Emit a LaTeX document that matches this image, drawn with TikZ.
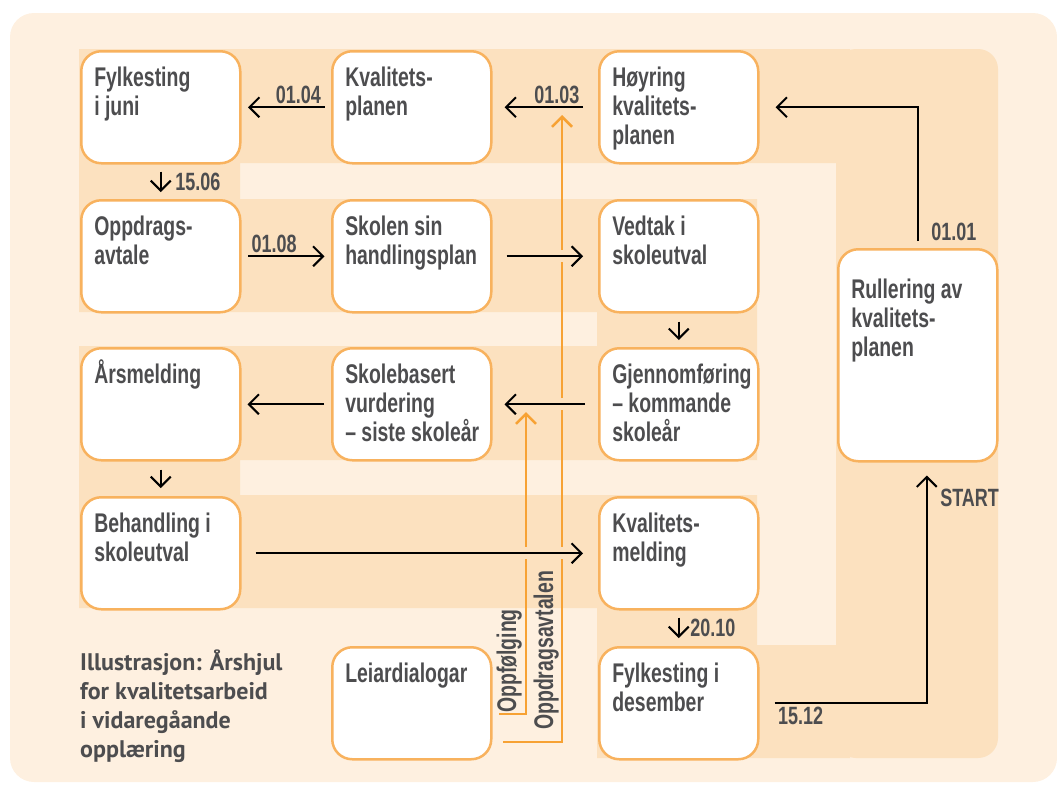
\documentclass[tikz,border=0pt]{standalone}
\usepackage{fontspec}
\setmainfont{Liberation Sans}
\newfontfamily\condfont{Liberation Sans}[FakeStretch=0.72]
\newfontfamily\capfont{PT Sans}
\usepackage{tikz}
\usetikzlibrary{arrows.meta}
\definecolor{bglight}{HTML}{FEF0E0}
\definecolor{band}{HTML}{FCE1BF}
\definecolor{boxline}{HTML}{F8B25E}
\definecolor{orangeline}{HTML}{F7A234}
\definecolor{txt}{HTML}{4D4D4F}
\newcommand\stagetext[3][112pt]{\parbox[c][#1][t]{159pt}{\raggedright\leftskip=13pt\rule{0pt}{#2}#3}}
\tikzset{
  stage/.style={draw=boxline, line width=2.5pt, fill=white, rounded corners=20pt, inner sep=0pt, anchor=north west, text=txt, font=\condfont\bfseries\fontsize{27}{29}\selectfont},
  flow/.style={draw=black, line width=2pt, -{Straight Barb[length=10pt,width=20pt]}},
  halo/.style={preaction={draw=band, line width=12pt, -}},
  datelbl/.style={text=txt, inner sep=2.5pt, font=\condfont\bfseries\fontsize{25}{27}\selectfont},
  sidelbl/.style={text=txt, inner sep=0pt, rotate=90, anchor=base west, font=\condfont\bfseries\fontsize{27}{29}\selectfont},
  track/.style={draw=orangeline, line width=2.5pt, -{Straight Barb[length=10pt,width=20pt]}}
}
\begin{document}
\begin{tikzpicture}[x=1pt,y=-1pt]
\useasboundingbox (0,0) rectangle (1057,785);
\fill[bglight, rounded corners=24pt] (10,13) rectangle (1057,782);
\fill[band, rounded corners=20pt] (836,49) rectangle (998,758);
\fill[band] (79,49) rectangle (850,163) (79,163) rectangle (240,199)
  (79,199) rectangle (757,312) (597,312) rectangle (757,346)
  (79,346) rectangle (757,460) (79,460) rectangle (240,495)
  (79,495) rectangle (757,608) (597,608) rectangle (757,645)
  (597,645) rectangle (850,758);

\coordinate (oppffoot) at (499,714);
\coordinate (oppftip) at (526,412);
\coordinate (avtfoot) at (503,742);
\coordinate (avttip) at (562,115);
\draw[track] (oppffoot) -| (oppftip);
\draw[track] (avtfoot) -| (avttip);
\node[sidelbl] (oppflbl) at (516,713) {Oppfølging};
\node[sidelbl] (avtlbl) at (553,730) {Oppdragsavtalen};

\node[stage] (juni) at (80,50) {\stagetext{35pt}{Fylkesting\\i juni}};
\node[stage] (kplan) at (331,50) {\stagetext{35pt}{Kvalitets-\\planen}};
\node[stage] (hoyring) at (598,50) {\stagetext{35pt}{Høyring\\kvalitets-\\planen}};
\node[stage] (oppdrag) at (80,199) {\stagetext{35pt}{Oppdrags-\\avtale}};
\node[stage] (handling) at (331,199) {\stagetext{35pt}{Skolen sin\\handlingsplan}};
\node[stage] (vedtak) at (598,199) {\stagetext{35pt}{Vedtak i\\skoleutval}};
\node[stage] (arsmeld) at (80,347) {\stagetext{35pt}{Årsmelding}};
\node[stage] (skolevurd) at (331,347) {\stagetext{35pt}{Skolebasert\\vurdering\\– siste skoleår}};
\node[stage] (gjennom) at (598,347) {\stagetext{35pt}{Gjennomføring\\– kommande\\skoleår}};
\node[stage] (behand) at (80,496) {\stagetext{35pt}{Behandling i\\skoleutval}};
\node[stage] (kmeld) at (598,496) {\stagetext{35pt}{Kvalitets-\\melding}};
\node[stage] (leiar) at (331,646) {\stagetext{35pt}{Leiardialogar}};
\node[stage] (desember) at (598,646) {\stagetext{35pt}{Fylkesting i\\desember}};
\node[stage] (rullering) at (837,248) {\stagetext[212pt]{49pt}{Rullering av\\kvalitets-\\planen}};

\draw[flow, shorten <=6.5pt, shorten >=6.5pt] (kplan) -- (juni) node[datelbl, pos=0, above left, xshift=-6.5pt] {01.04};
\draw[flow, shorten <=15pt, shorten >=12pt] (hoyring) -- (kplan) node[datelbl, pos=0, above left, xshift=-15pt] {01.03};
\draw[flow, shorten <=7pt, shorten >=16pt] (rullering.north) |- (hoyring.east) node[datelbl, pos=0, anchor=south west, xshift=10pt, yshift=4pt] {01.01};
\draw[flow, shorten <=7pt, shorten >=7pt] (juni) -- (oppdrag) node[datelbl, midway, right=11pt] {15.06};
\draw[flow, shorten <=6.5pt, shorten >=6.5pt] (oppdrag) -- (handling) node[datelbl, pos=0, above right, xshift=6.5pt] {01.08};
\draw[flow, halo, shorten <=14pt, shorten >=15pt] (handling) -- (vedtak);
\draw[flow, shorten <=8pt, shorten >=7pt] (vedtak) -- (gjennom);
\draw[flow, halo, shorten <=13pt, shorten >=12pt] (gjennom) -- (skolevurd);
\draw[flow, shorten <=7pt, shorten >=6pt] (skolevurd) -- (arsmeld);
\draw[flow, shorten <=8pt, shorten >=8pt] (arsmeld) -- (behand);
\draw[flow, halo, shorten <=14pt, shorten >=15pt] (behand) -- (kmeld);
\draw[flow, shorten <=7pt, shorten >=8pt] (kmeld) -- (desember) node[datelbl, midway, right=8pt] {20.10};
\draw[flow, shorten <=15pt, shorten >=13pt] (desember.east) -| ([xshift=9pt]rullering.south)
  node[datelbl, pos=0, below right, xshift=15pt] {15.12}
  node[datelbl, pos=1, anchor=north west, xshift=10pt, yshift=-23pt] {START};

\node[anchor=base west, align=left, inner sep=0pt, text=txt, font=\capfont\bfseries\fontsize{24}{29}\selectfont] (caption) at (80,757) {Illustrasjon: Årshjul\\for kvalitetsarbeid\\i vidaregåande\\opplæring};
\end{tikzpicture}
\end{document}
